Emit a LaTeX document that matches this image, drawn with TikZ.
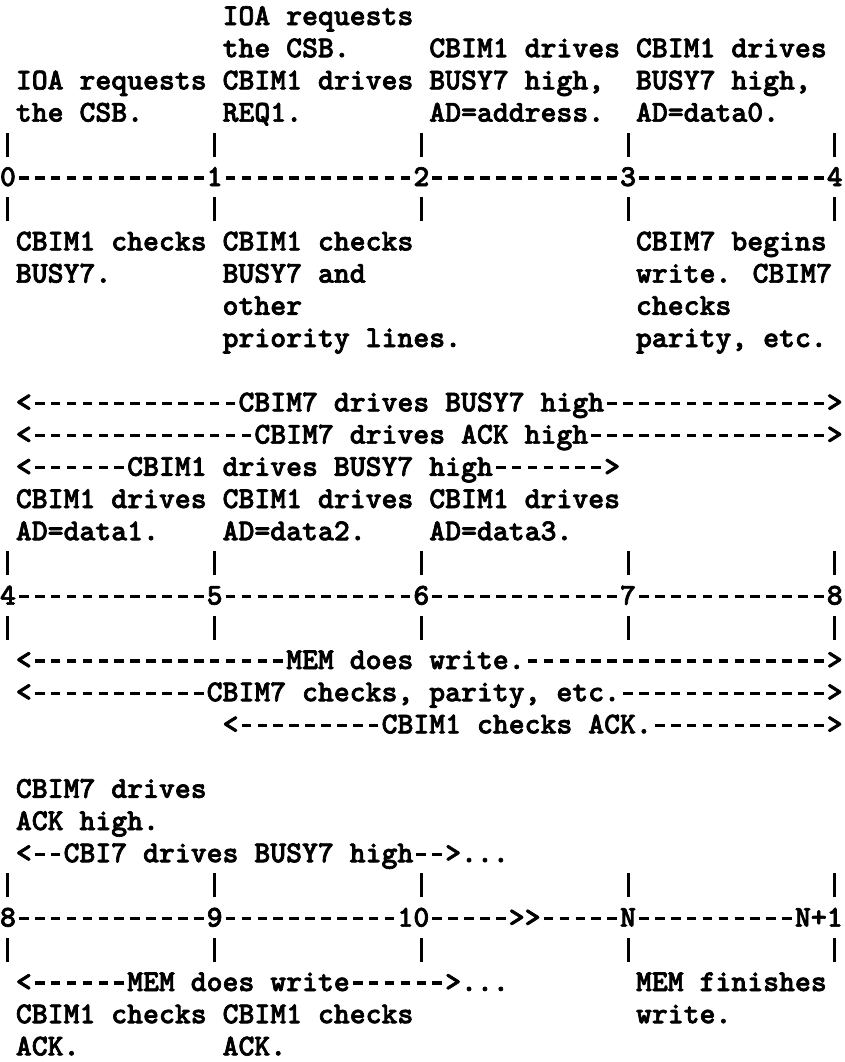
\documentclass[tikz,border=0pt]{standalone}
\usepackage{fontspec}
\newfontfamily\typew{lmmonolt10-bold.otf}[FakeBold=2.2]
\begin{document}
\begin{tikzpicture}[
  x=7.95pt, y=-16.1pt,
  font=\typew\fontsize{15.14pt}{16.1pt}\selectfont,
  lbl/.style={anchor=base west, inner sep=0pt, outer sep=0pt, text height=9.6pt, text depth=1.6pt},
  tick/.style={lbl},
  hyph/.style={line width=1.6pt, dash pattern=on 4.8pt off 3.15pt, dash phase=6.375pt},
  bar/.style={line width=1.5pt}
]
\fill[white] (0,0.2236) rectangle (53.082,33.205);
\useasboundingbox (0,0.2236) rectangle (53.082,33.205);

% first interval, above the line
\node[lbl] (p1a) at (14,1) {IOA requests};
\node[lbl] (p1b) at (14,2) {the CSB.};
\node[lbl] (p2a) at (27,2) {CBIM1 drives};
\node[lbl] (p3a) at (40,2) {CBIM1 drives};
\node[lbl] (p0a) at (1,3) {IOA requests};
\node[lbl] (p1c) at (14,3) {CBIM1 drives};
\node[lbl] (p2b) at (27,3) {BUSY7 high,};
\node[lbl] (p3b) at (40,3) {BUSY7 high,};
\node[lbl] (p0b) at (1,4) {the CSB.};
\node[lbl] (p1d) at (14,4) {REQ1.};
\node[lbl] (p2c) at (27,4) {AD=address.};
\node[lbl] (p3c) at (40,4) {AD=data0.};

\node[tick] (t0) at (0,6) {0};
\node[tick] (t1) at (13,6) {1};
\node[tick] (t2) at (26,6) {2};
\node[tick] (t3) at (39,6) {3};
\node[tick] (t4) at (52,6) {4};
\draw[hyph] (t0.east) -- (t1.west);
\draw[hyph] (t1.east) -- (t2.west);
\draw[hyph] (t2.east) -- (t3.west);
\draw[hyph] (t3.east) -- (t4.west);

% first interval, below the line
\node[lbl] (q0a) at (1,8) {CBIM1 checks};
\node[lbl] (q1a) at (14,8) {CBIM1 checks};
\node[lbl] (q3a) at (40,8) {CBIM7 begins};
\node[lbl] (q0b) at (1,9) {BUSY7.};
\node[lbl] (q1b) at (14,9) {BUSY7 and};
\node[lbl] (q3b) at (40,9) {write. CBIM7};
\node[lbl] (q1c) at (14,10) {other};
\node[lbl] (q3c) at (40,10) {checks};
\node[lbl] (q1d) at (14,11) {priority lines.};
\node[lbl] (q3d) at (40,11) {parity, etc.};

% spans over the second interval
\node[lbl] (busySl) at (1,13) {<};
\node[lbl] (busyS) at (15,13) {CBIM7 drives BUSY7 high};
\node[lbl] (busySr) at (52,13) {>};
\draw[hyph] (busyS.west) -- (busySl.east);
\draw[hyph] (busyS.east) -- (busySr.west);

\node[lbl] (ackSl) at (1,14) {<};
\node[lbl] (ackS) at (16,14) {CBIM7 drives ACK high};
\node[lbl] (ackSr) at (52,14) {>};
\draw[hyph] (ackS.west) -- (ackSl.east);
\draw[hyph] (ackS.east) -- (ackSr.west);

\node[lbl] (busyMl) at (1,15) {<};
\node[lbl] (busyM) at (8,15) {CBIM1 drives BUSY7 high};
\node[lbl] (busyMr) at (38,15) {>};
\draw[hyph] (busyM.west) -- (busyMl.east);
\draw[hyph] (busyM.east) -- (busyMr.west);

\node[lbl] (r0a) at (1,16) {CBIM1 drives};
\node[lbl] (r1a) at (14,16) {CBIM1 drives};
\node[lbl] (r2a) at (27,16) {CBIM1 drives};
\node[lbl] (r0b) at (1,17) {AD=data1.};
\node[lbl] (r1b) at (14,17) {AD=data2.};
\node[lbl] (r2b) at (27,17) {AD=data3.};

\node[tick] (u4) at (0,19) {4};
\node[tick] (u5) at (13,19) {5};
\node[tick] (u6) at (26,19) {6};
\node[tick] (u7) at (39,19) {7};
\node[tick] (u8) at (52,19) {8};
\draw[hyph] (u4.east) -- (u5.west);
\draw[hyph] (u5.east) -- (u6.west);
\draw[hyph] (u6.east) -- (u7.west);
\draw[hyph] (u7.east) -- (u8.west);

\node[lbl] (memWl) at (1,21) {<};
\node[lbl] (memW) at (18,21) {MEM does write.};
\node[lbl] (memWr) at (52,21) {>};
\draw[hyph] (memW.west) -- (memWl.east);
\draw[hyph] (memW.east) -- (memWr.west);

\node[lbl] (parSl) at (1,22) {<};
\node[lbl] (parS) at (13,22) {CBIM7 checks, parity, etc.};
\node[lbl] (parSr) at (52,22) {>};
\draw[hyph] (parS.west) -- (parSl.east);
\draw[hyph] (parS.east) -- (parSr.west);

\node[lbl] (ackMl) at (14,23) {<};
\node[lbl] (ackM) at (24,23) {CBIM1 checks ACK.};
\node[lbl] (ackMr) at (52,23) {>};
\draw[hyph] (ackM.west) -- (ackMl.east);
\draw[hyph] (ackM.east) -- (ackMr.west);

% third interval
\node[lbl] (s0a) at (1,25) {CBIM7 drives};
\node[lbl] (s0b) at (1,26) {ACK high.};

\node[lbl] (busyNl) at (1,27) {<};
\node[lbl] (busyN) at (4,27) {CBI7 drives BUSY7 high};
\node[lbl] (busyNr) at (28,27) {>};
\node[lbl] (busyNd) at (29,27) {...};
\draw[hyph] (busyN.west) -- (busyNl.east);
\draw[hyph] (busyN.east) -- (busyNr.west);

\node[tick] (v8) at (0,29) {8};
\node[tick] (v9) at (13,29) {9};
\node[tick] (v10) at (25,29) {10};
\node[tick] (vgt) at (32,29) {>{}>};
\node[tick] (vN) at (39,29) {N};
\node[tick] (vN1) at (50,29) {N+1};
\draw[hyph] (v8.east) -- (v9.west);
\draw[hyph] (v9.east) -- (v10.west);
\draw[hyph] (v10.east) -- (vgt.west);
\draw[hyph] (vgt.east) -- (vN.west);
\draw[hyph] (vN.east) -- (vN1.west);

\node[lbl] (memNl) at (1,31) {<};
\node[lbl] (memN) at (8,31) {MEM does write};
\node[lbl] (memNr) at (28,31) {>};
\node[lbl] (memNd) at (29,31) {...};
\draw[hyph] (memN.west) -- (memNl.east);
\draw[hyph] (memN.east) -- (memNr.west);
\node[lbl] (w3a) at (40,31) {MEM finishes};
\node[lbl] (w0a) at (1,32) {CBIM1 checks};
\node[lbl] (w1a) at (14,32) {CBIM1 checks};
\node[lbl] (w3b) at (40,32) {write.};
\node[lbl] (w0b) at (1,33) {ACK.};
\node[lbl] (w1b) at (14,33) {ACK.};

% tick bars above and below each time line
\foreach \r in {5,7,18,20,28,30}
  \foreach \c in {0.5,13.5,26.5,39.5,52.5}
    \draw[bar] ([yshift=-1.5pt]\c,\r) -- ([yshift=10.5pt]\c,\r);
\end{tikzpicture}
\end{document}
